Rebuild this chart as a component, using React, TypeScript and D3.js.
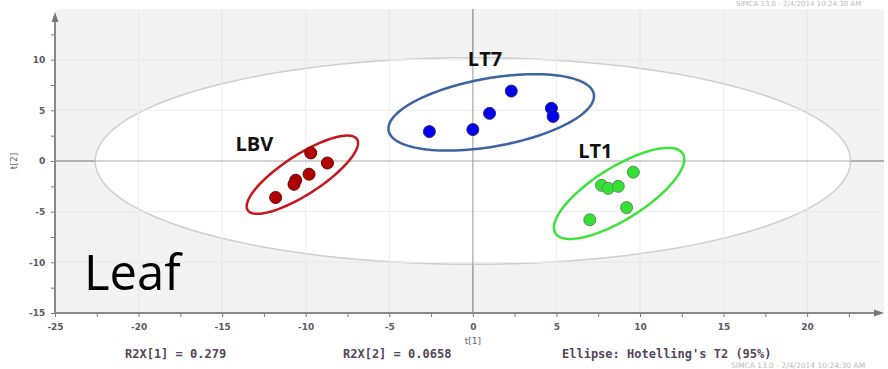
import React, { useEffect, useRef } from 'react';
import * as d3 from 'd3';

const W = 888;
const H = 369;

// score values t[1], t[2] per group
const lbvT1 = [-9.7, -8.7, -9.8, -10.6, -10.7, -11.8];
const lbvT2 = [0.8, -0.2, -1.3, -1.9, -2.3, -3.6];
const lt7T1 = [-2.6, 0.0, 1.0, 2.3, 4.7, 4.8];
const lt7T2 = [2.9, 3.1, 4.7, 6.9, 5.2, 4.4];
const lt1T1 = [9.6, 7.7, 8.1, 8.7, 9.2, 7.0];
const lt1T2 = [-1.1, -2.4, -2.7, -2.5, -4.6, -5.8];

const groupNames = ['LBV', 'LT7', 'LT1'];
const groupFill = ['#b30000', '#0000ee', '#33e233'];
const groupEdge = ['#6a0000', '#2a2a6a', '#5a8a5a'];
const groupRing = ['#c8141b', '#3b64a0', '#3ee23e'];

// ellipses: center, two conjugate semi-diameters (data units)
const ringCx = [-10.2, 1.1, 8.75];
const ringCy = [-1.35, 4.8, -3.2];
const ringA = [[3.27, 3.5], [6.14, 1.79], [3.81, 3.93]];
const ringB = [[0.64, -1.63], [0.35, -3.32], [0.83, -2.18]];
const labelPos = [[-14.2, 1.0], [-0.3, 9.4], [6.3, 0.3]];

const hotellingRx = 22.6;
const hotellingRy = 10.2;

const xTicks = [-25, -20, -15, -10, -5, 0, 5, 10, 15, 20];
const yTicks = [-15, -10, -5, 0, 5, 10];

const App = () => {
  const svgRef = useRef(null);

  useEffect(() => {
    const svg = d3.select(svgRef.current);
    svg.selectAll('*').remove();

    const x = d3.scaleLinear().domain([-25, 24.6]).range([55, 884]);
    const y = d3.scaleLinear().domain([-15, 15]).range([313, 9]);

    svg.append('rect').attr('width', W).attr('height', H).attr('fill', '#fff');

    svg
      .append('rect')
      .attr('x', x(-25))
      .attr('y', y(15))
      .attr('width', x(24.6) - x(-25))
      .attr('height', y(-15) - y(15))
      .attr('fill', '#f3f3f3');

    // grid
    const grid = svg.append('g');
    grid
      .selectAll('line.v')
      .data(xTicks.filter(d => d > -25))
      .enter()
      .append('line')
      .attr('x1', d => x(d))
      .attr('x2', d => x(d))
      .attr('y1', y(15))
      .attr('y2', y(-15))
      .attr('stroke', d => (d === 0 ? '#a8a8a8' : '#e2e2e2'))
      .attr('stroke-width', d => (d === 0 ? 1.5 : 1));
    grid
      .selectAll('line.h')
      .data(yTicks.filter(d => d > -15))
      .enter()
      .append('line')
      .attr('x1', x(-25))
      .attr('x2', x(24.6))
      .attr('y1', d => y(d))
      .attr('y2', d => y(d))
      .attr('stroke', d => (d === 0 ? '#a8a8a8' : '#e2e2e2'))
      .attr('stroke-width', d => (d === 0 ? 1.5 : 1));

    const ellipseLine = d3
      .line()
      .x(d => x(d[0]))
      .y(d => y(d[1]))
      .curve(d3.curveLinearClosed);
    const steps = d3.range(0, 120).map(i => (i / 120) * Math.PI * 2);

    // Hotelling T2 ellipse
    svg
      .append('path')
      .attr('d', ellipseLine(steps.map(t => [hotellingRx * Math.cos(t), hotellingRy * Math.sin(t)])))
      .attr('fill', '#fff')
      .attr('stroke', '#cfcfcf')
      .attr('stroke-width', 1.5);

    // grid inside ellipse faint
    svg
      .selectAll('line.vin')
      .data(xTicks.filter(d => d > -25 && d !== 0))
      .enter()
      .append('line')
      .attr('x1', d => x(d)).attr('x2', d => x(d))
      .attr('y1', y(15)).attr('y2', y(-15))
      .attr('stroke', '#ececec');
    svg
      .selectAll('line.hin')
      .data(yTicks.filter(d => d > -15 && d !== 0))
      .enter()
      .append('line')
      .attr('x1', x(-25)).attr('x2', x(24.6))
      .attr('y1', d => y(d)).attr('y2', d => y(d))
      .attr('stroke', '#ececec');
    // zero lines over the white ellipse
    svg
      .append('line')
      .attr('x1', x(0)).attr('x2', x(0))
      .attr('y1', y(15)).attr('y2', y(-15))
      .attr('stroke', '#a8a8a8').attr('stroke-width', 1.2);
    svg
      .append('line')
      .attr('x1', x(-25)).attr('x2', x(24.6))
      .attr('y1', y(0)).attr('y2', y(0))
      .attr('stroke', '#a8a8a8').attr('stroke-width', 1.2);

    // axes
    const xAxis = d3
      .axisBottom(x)
      .tickValues(d3.range(-25, 24, 2.5))
      .tickSize(4)
      .tickFormat(d => (xTicks.includes(d) ? String(d) : ''));
    const gx = svg.append('g').attr('transform', `translate(0,${y(-15)})`).call(xAxis);
    gx.select('.domain').remove();
    gx.selectAll('line').attr('stroke', '#777');
    gx.selectAll('text')
      .attr('fill', '#5a5a66')
      .attr('font-family', 'DejaVu Sans')
      .attr('font-weight', 'bold')
      .attr('font-size', 9)
      .attr('dy', '1.1em');

    const yAxis = d3
      .axisLeft(y)
      .tickValues(d3.range(-15, 15, 2.5))
      .tickSize(4)
      .tickFormat(d => (yTicks.includes(d) ? String(d) : ''));
    const gy = svg.append('g').attr('transform', `translate(${x(-25)},0)`).call(yAxis);
    gy.select('.domain').remove();
    gy.selectAll('line').attr('stroke', '#777');
    gy.selectAll('text')
      .attr('fill', '#5a5a66')
      .attr('font-family', 'DejaVu Sans')
      .attr('font-weight', 'bold')
      .attr('font-size', 9)
      .attr('dx', '-0.3em');

    // axis lines with arrows
    svg
      .append('line')
      .attr('x1', x(-25)).attr('x2', x(24.3))
      .attr('y1', y(-15)).attr('y2', y(-15))
      .attr('stroke', '#888').attr('stroke-width', 2);
    svg
      .append('path')
      .attr('d', `M${x(24.6)},${y(-15)} l-10,-3.5 l0,7 z`)
      .attr('fill', '#777');
    svg
      .append('line')
      .attr('x1', x(-25)).attr('x2', x(-25))
      .attr('y1', y(-15)).attr('y2', y(14.2))
      .attr('stroke', '#888').attr('stroke-width', 2);
    svg
      .append('path')
      .attr('d', `M${x(-25)},${y(15) + 3} l-3.5,10 l7,0 z`)
      .attr('fill', '#777');

    // group ellipses, points and labels
    const t1 = [lbvT1, lt7T1, lt1T1];
    const t2 = [lbvT2, lt7T2, lt1T2];
    groupNames.forEach((name, g) => {
      const a = ringA[g];
      const b = ringB[g];
      svg
        .append('path')
        .attr(
          'd',
          ellipseLine(
            steps.map(t => [
              ringCx[g] + a[0] * Math.cos(t) + b[0] * Math.sin(t),
              ringCy[g] + a[1] * Math.cos(t) + b[1] * Math.sin(t),
            ])
          )
        )
        .attr('fill', 'none')
        .attr('stroke', groupRing[g])
        .attr('stroke-width', 2.5);

      svg
        .selectAll(`circle.g${g}`)
        .data(t1[g].map((v, i) => [v, t2[g][i]]))
        .enter()
        .append('circle')
        .attr('cx', d => x(d[0]))
        .attr('cy', d => y(d[1]))
        .attr('r', 6)
        .attr('fill', groupFill[g])
        .attr('stroke', groupEdge[g])
        .attr('stroke-width', 1);

      svg
        .append('text')
        .attr('x', x(labelPos[g][0]))
        .attr('y', y(labelPos[g][1]))
        .attr('font-family', 'Open Sans')
        .attr('font-weight', 'bold')
        .attr('font-size', 20)
        .attr('fill', '#111')
        .text(name);
    });

    svg
      .append('text')
      .attr('x', 84)
      .attr('y', 290)
      .attr('font-family', 'Open Sans')
      .attr('font-size', 49)
      .attr('fill', '#000')
      .text('Leaf');

    // axis titles
    svg
      .append('text')
      .attr('transform', `translate(17,${y(0)}) rotate(-90)`)
      .attr('text-anchor', 'middle')
      .attr('font-family', 'DejaVu Sans')
      .attr('font-size', 9)
      .attr('fill', '#666')
      .text('t[2]');
    svg
      .append('text')
      .attr('x', x(0))
      .attr('y', 344)
      .attr('text-anchor', 'middle')
      .attr('font-family', 'DejaVu Sans')
      .attr('font-size', 9)
      .attr('fill', '#666')
      .text('t[1]');

    // footer
    const foot = [
      ['R2X[1] = 0.279', 125],
      ['R2X[2] = 0.0658', 343],
      ["Ellipse: Hotelling's T2 (95%)", 562],
    ];
    foot.forEach(([txt, px]) => {
      svg
        .append('text')
        .attr('x', px)
        .attr('y', 358)
        .attr('font-family', 'DejaVu Sans Mono')
        .attr('font-weight', 'bold')
        .attr('font-size', 12)
        .attr('fill', '#54465a')
        .text(txt);
    });
    svg
      .append('text')
      .attr('x', 731)
      .attr('y', 368)
      .attr('font-family', 'DejaVu Sans')
      .attr('font-size', 7.5)
      .attr('fill', '#bbb')
      .text('SIMCA 13.0 - 2/4/2014 10:24:30 AM');
    svg
      .append('text')
      .attr('x', 736)
      .attr('y', 6)
      .attr('font-family', 'DejaVu Sans')
      .attr('font-size', 7)
      .attr('fill', '#bbb')
      .text('SIMCA 13.0 - 2/4/2014 10:24:30 AM');
  }, []);

  return (
    <div style={{ position: 'fixed', left: 0, top: 0 }}>
      <svg ref={svgRef} width={W} height={H} style={{ display: 'block' }} />
    </div>
  );
};

export default App;
